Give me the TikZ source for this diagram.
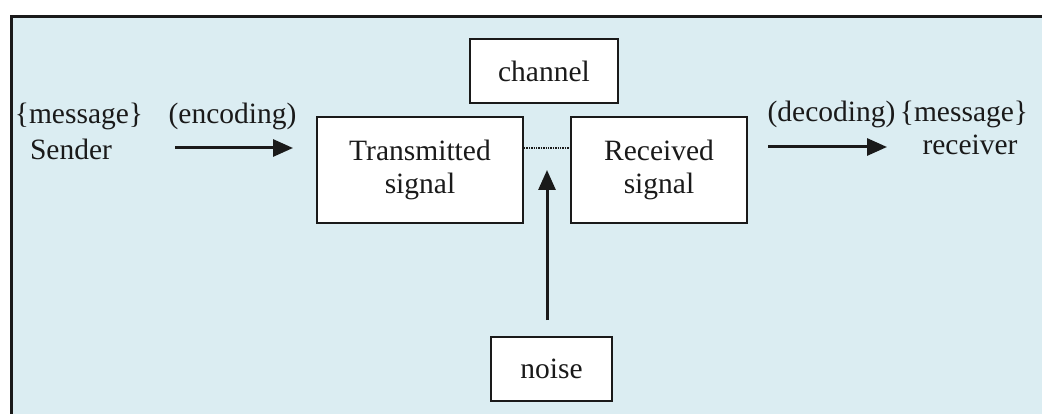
\documentclass[tikz,border=0pt]{standalone}
\usepackage{fontspec}
\setmainfont{Liberation Serif}
\usetikzlibrary{arrows.meta}
\definecolor{bgblue}{HTML}{DBEDF2}
\definecolor{ink}{HTML}{1A1A1A}
\begin{document}
\begin{tikzpicture}[x=1pt,y=-1pt,
  box/.style={draw=ink, line width=2pt, fill=white, inner sep=0pt, align=center,
    font=\fontsize{29.5}{33}\selectfont, text=ink},
  lbl/.style={inner sep=0pt, anchor=base, font=\fontsize{29.5}{33}\selectfont, text=ink},
  arr/.style={draw=ink, line width=3pt, -{Triangle[length=20pt,width=17pt]}}]
\useasboundingbox (0,0) rectangle (1042,414);
\fill[white] (0,0) rectangle (1042,414);
\fill[bgblue] (11,16) rectangle (1042,414);
\draw[ink, line width=3pt] (11.5,414) -- (11.5,16.5) -- (1042,16.5);
% boxes
\node[box, minimum width=148pt, minimum height=64pt] (ch) at (544,71) {channel};
\node[box, minimum width=206pt, minimum height=106pt] (tx) at (420,170) {Transmitted\\signal};
\node[box, minimum width=176pt, minimum height=106pt] (rx) at (659,170) {Received\\signal};
\node[box, minimum width=121pt, minimum height=64pt] (ns) at (551.5,369) {noise};
% texts
\node[lbl] (msgL) at (79,124) {\{message\}};
\node[lbl] (snd) at (71,160) {Sender};
\node[lbl] (enc) at (232.5,124) {(encoding)};
\node[lbl] (dec) at (831.5,122) {(decoding)};
\node[lbl] (msgR) at (964,122) {\{message\}};
\node[lbl] (rcv) at (970,155) {receiver};
% connectors
\coordinate (dl) at (0,148);
\draw[ink, line width=1.4pt, densely dotted] (tx.east |- dl) -- (rx.west |- dl);
\coordinate (ea) at (175,148);
\coordinate (eb) at (293,148);
\draw[arr] (ea) -- (eb);
\coordinate (da) at (768,147);
\coordinate (db) at (887,147);
\draw[arr] (da) -- (db);
\coordinate (na) at (547,320);
\coordinate (nb) at (547,170);
\draw[arr] (na) -- (nb);
\end{tikzpicture}
\end{document}
